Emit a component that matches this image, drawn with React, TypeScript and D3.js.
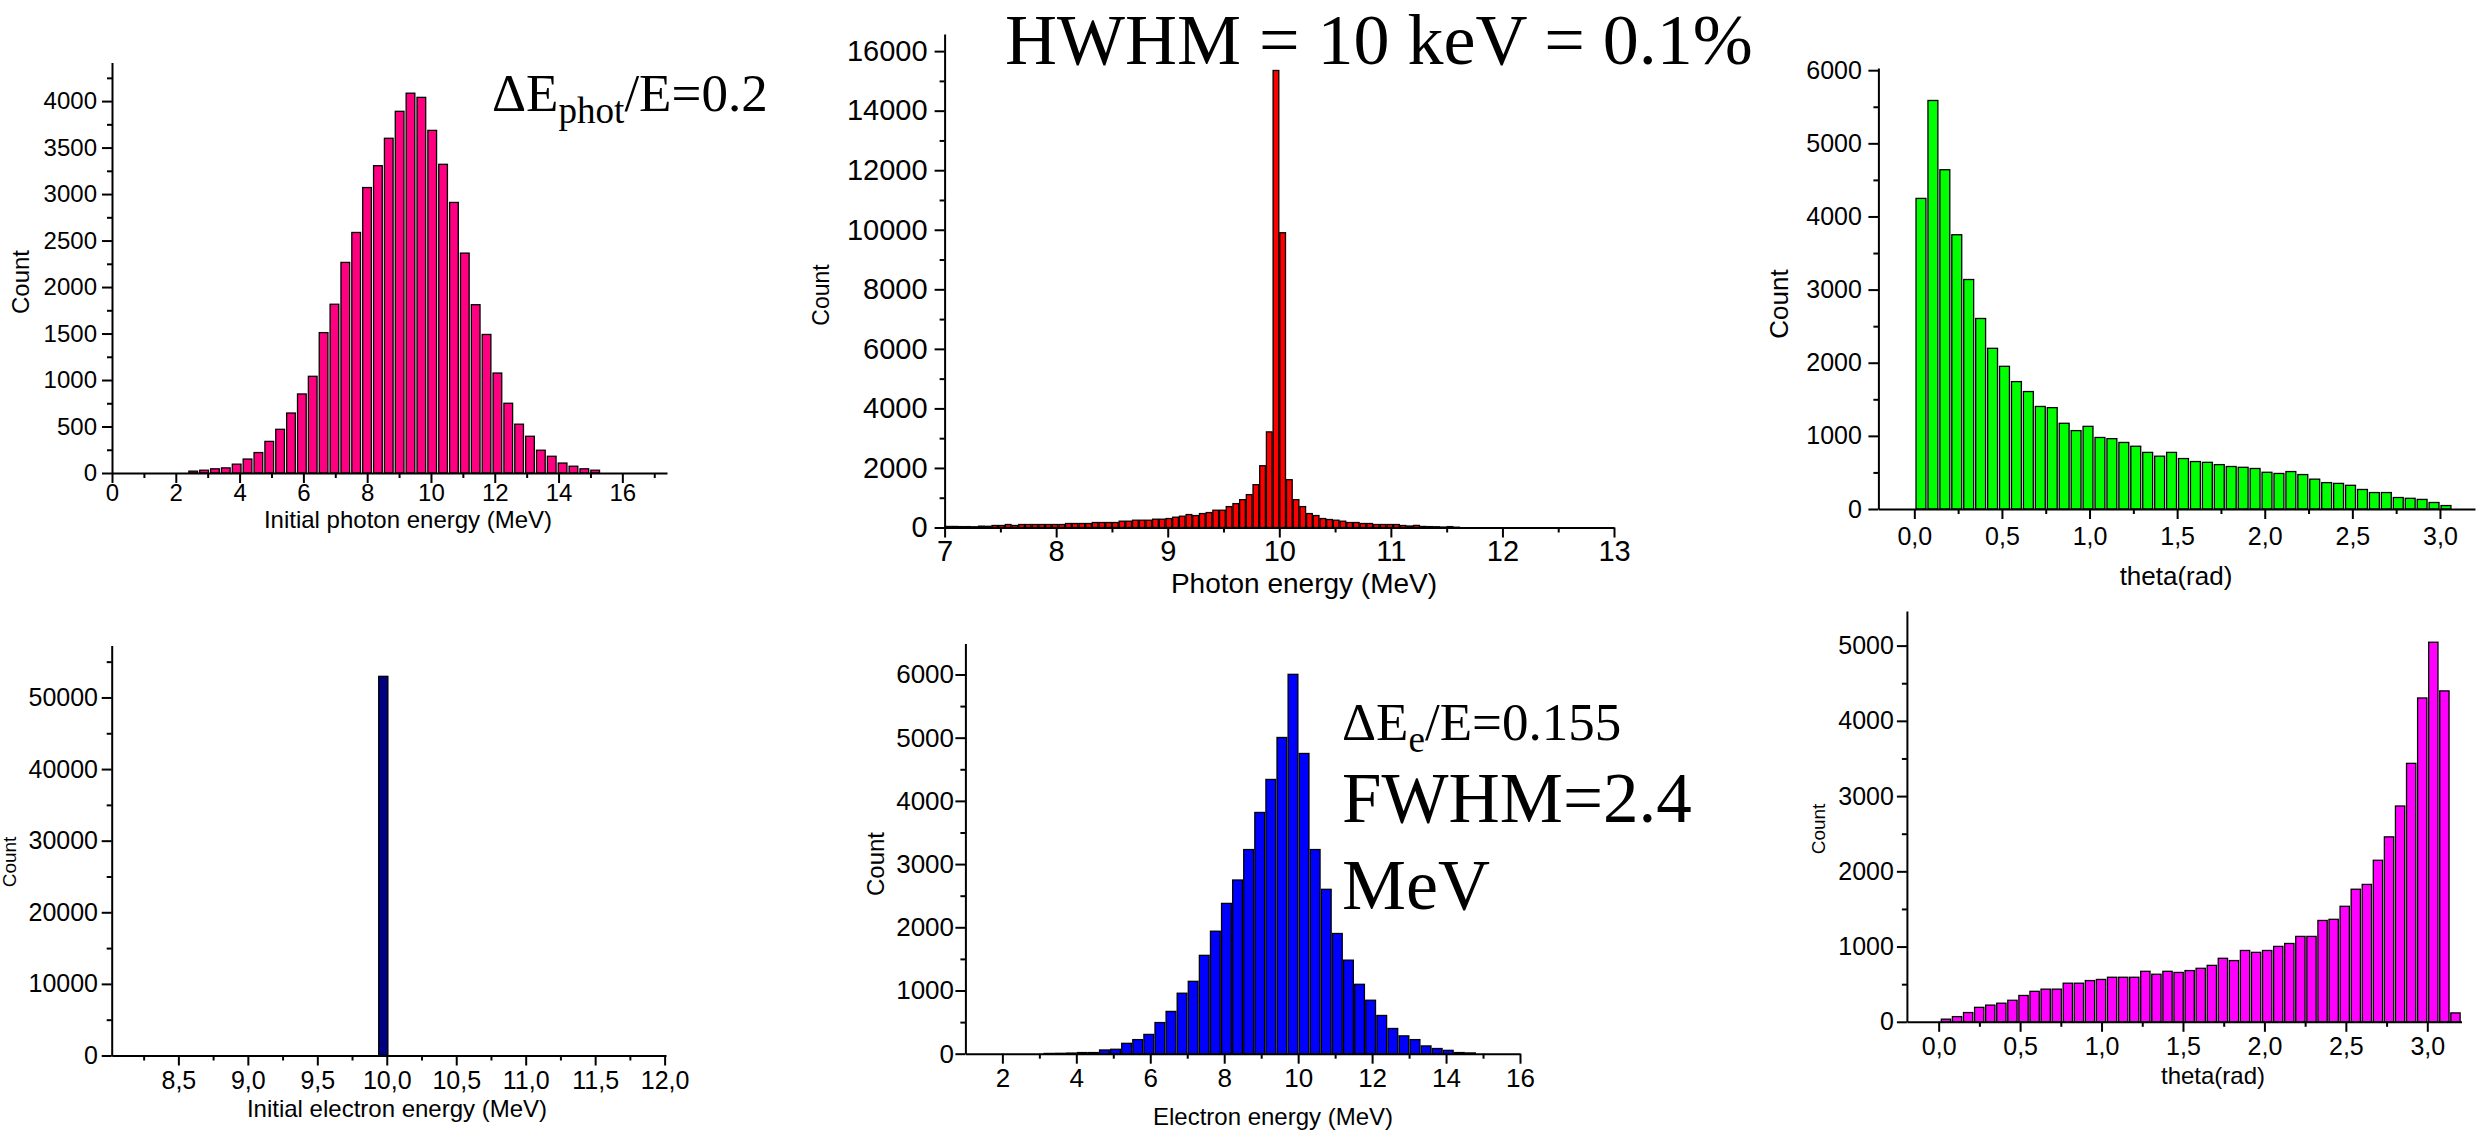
import * as d3 from 'd3';
import { useEffect, useRef } from 'react';

const SANS = '"Liberation Sans", Arial, sans-serif';
const SERIF = '"Liberation Serif", "Times New Roman", serif';

// ---- data (bin start centre, bin step, counts) ----
const photonInitStart = 2.546;
const photonInitStep = 0.3406;
const photonInitCounts = [20, 30, 45, 55, 95, 150, 220, 340, 470, 645, 850, 1040, 1510, 1815, 2265, 2587, 3070, 3305, 3600, 3890,
    4085, 4040, 3685, 3320, 2910, 2365, 1810, 1490, 1075, 750, 525, 395, 245, 180, 107, 73, 45, 30];

const photonStart = 7.03;
const photonStep = 0.06;
const photonCounts = [35, 35, 30, 30, 25, 45, 40,
    67, 67, 100, 67, 100, 100, 100, 100, 100, 100, 100, 134, 134, 134, 134, 167, 167, 167, 167, 212,
    212, 245, 245, 245, 279, 279, 301, 346, 379, 435, 401, 468, 502, 580, 580, 702, 803, 936, 1104, 1438,
    2074, 3211, 15350, 9900, 1605, 936, 702, 468, 401, 301, 268, 245, 212, 167, 167, 134, 134, 100, 100, 100, 100, 67,
    50, 70, 35, 30, 25, 15, 30, 10];

const thetaPhotStart = 0.038;
const thetaPhotStep = 0.0681;
const thetaPhotCounts = [4247, 5586, 4639, 3750, 3138, 2605, 2197, 1951, 1742, 1606, 1402, 1386, 1172, 1072, 1130, 978, 962, 910,
    858, 774, 722, 774, 690, 649, 638, 607, 581, 570, 554, 502, 486, 512, 471, 408, 361, 350, 324, 267, 225, 225, 157, 146, 131, 89, 47];

const electronInitCentres = [9.975];
const electronInitStep = 0.066;
const electronInitCounts = [52950];

const electronStart = 3.26;
const electronStep = 0.3;
const electronCounts = [4, 6, 10, 18, 18, 59, 70, 164, 223, 305, 493, 669, 957, 1145, 1556, 1938, 2378, 2748, 3230, 3817, 4339,
    5003, 6002, 4750, 3230, 2601, 1902, 1480, 1098, 846, 605, 399, 282, 223, 123, 82, 53, 18, 12];

const thetaElStart = 0.045;
const thetaElStep = 0.068;
const thetaElCounts = [35, 69, 123, 192, 222, 247, 286, 350, 405, 434, 434, 513, 513, 548, 563, 592, 592, 592, 671, 632, 671, 656,
    681, 711, 750, 844, 814, 948, 923, 948, 1002, 1041, 1135, 1135, 1347, 1362, 1535, 1762, 1826, 2147, 2458, 2868, 3435, 4304,
    5045, 4398, 118];

// tick values
const ticksE0to16 = [0, 2, 4, 6, 8, 10, 12, 14, 16];
const ticksPhotCount = [0, 500, 1000, 1500, 2000, 2500, 3000, 3500, 4000];
const ticksE7to13 = [7, 8, 9, 10, 11, 12, 13];
const ticksPeakCount = [0, 2000, 4000, 6000, 8000, 10000, 12000, 14000, 16000];
const ticksTheta = [0, 0.5, 1, 1.5, 2, 2.5, 3];
const ticks6000 = [0, 1000, 2000, 3000, 4000, 5000, 6000];
const ticks5000 = [0, 1000, 2000, 3000, 4000, 5000];
const ticksE85to12 = [8.5, 9, 9.5, 10, 10.5, 11, 11.5, 12];
const ticks50000 = [0, 10000, 20000, 30000, 40000, 50000];
const ticksE2to16 = [2, 4, 6, 8, 10, 12, 14, 16];

const comma = d3.formatLocale({ decimal: ',', thousands: '.', grouping: [3], currency: ['', ''] }).format('.1f');
const plain = (v: any) => `${v}`;

const between = (a: number, b: number, s: number) => d3.range(a, b + 1e-9, s);

const panels: any[] = [
    {
        centres: photonInitCounts.map((_, i) => photonInitStart + i * photonInitStep), step: photonInitStep, counts: photonInitCounts,
        frac: 0.8, color: '#ff0080',
        xDomain: [0, 17.4], yDomain: [0, 4415], frame: { x0: 112, x1: 667, yTop: 62.5, yBase: 473 },
        xTicks: ticksE0to16, xMinor: between(1, 17, 2), yTicks: ticksPhotCount, yMinor: between(250, 4250, 500),
        xFmt: plain, font: 24, xLab: 28, yLab: 15,
        title: { text: 'Initial photon energy (MeV)', x: 408, y: 528, size: 24 },
        count: { x: 20, y: 282, size: 24 },
    },
    {
        centres: photonCounts.map((_, i) => photonStart + i * photonStep), step: photonStep, counts: photonCounts,
        frac: 0.85, color: '#ff0000',
        xDomain: [7, 13], yDomain: [0, 16575], frame: { x0: 944.6, x1: 1614, yTop: 34, yBase: 527.5 },
        xTicks: ticksE7to13, xMinor: between(7.5, 12.5, 1), yTicks: ticksPeakCount, yMinor: between(1000, 15000, 2000),
        xFmt: plain, font: 29, xLab: 33.5, yLab: 17,
        title: { text: 'Photon energy (MeV)', x: 1304, y: 593, size: 28 },
        count: { x: 821, y: 295, size: 23 },
    },
    {
        centres: thetaPhotCounts.map((_, i) => thetaPhotStart + i * thetaPhotStep), step: thetaPhotStep, counts: thetaPhotCounts,
        frac: 0.83, color: '#00ff00',
        xDomain: [-0.205, 3.2], yDomain: [0, 6030], frame: { x0: 1878.4, x1: 2475, yTop: 68, yBase: 509 },
        xTicks: ticksTheta, xMinor: between(0.25, 2.75, 0.5), yTicks: ticks6000, yMinor: between(500, 5500, 1000),
        xFmt: comma, font: 25, xLab: 36, yLab: 16.5,
        title: { text: 'theta(rad)', x: 2176, y: 585, size: 26 },
        count: { x: 1779, y: 304, size: 26 },
    },
    {
        centres: electronInitCentres, step: electronInitStep, counts: electronInitCounts,
        frac: 1, color: '#000080',
        xDomain: [8.02, 12.01], yDomain: [0, 57270], frame: { x0: 111.7, x1: 666, yTop: 645.4, yBase: 1055.5 },
        xTicks: ticksE85to12, xMinor: between(8.25, 11.75, 0.5), yTicks: ticks50000, yMinor: between(5000, 55000, 10000),
        xFmt: comma, font: 25, xLab: 33, yLab: 13.7,
        title: { text: 'Initial electron energy (MeV)', x: 397, y: 1117, size: 24 },
        count: { x: 9, y: 862, size: 19 },
    },
    {
        centres: electronCounts.map((_, i) => electronStart + i * electronStep), step: electronStep, counts: electronCounts,
        frac: 0.88, color: '#0000ff',
        xDomain: [1, 16], yDomain: [0, 6490], frame: { x0: 965.4, x1: 1520, yTop: 643.5, yBase: 1053.7 },
        xTicks: ticksE2to16, xMinor: between(3, 15, 2), yTicks: ticks6000, yMinor: between(500, 6000, 1000),
        xFmt: plain, font: 26, xLab: 33.6, yLab: 11.4,
        title: { text: 'Electron energy (MeV)', x: 1273, y: 1125, size: 24 },
        count: { x: 875, y: 864, size: 24 },
    },
    {
        centres: thetaElCounts.map((_, i) => thetaElStart + i * thetaElStep), step: thetaElStep, counts: thetaElCounts,
        frac: 0.84, color: '#ff00ff',
        xDomain: [-0.195, 3.21], yDomain: [0, 5460], frame: { x0: 1906.9, x1: 2461.5, yTop: 611, yBase: 1021.8 },
        xTicks: ticksTheta, xMinor: between(0.25, 2.75, 0.5), yTicks: ticks5000, yMinor: between(500, 4500, 1000),
        xFmt: comma, font: 25, xLab: 33.2, yLab: 13,
        title: { text: 'theta(rad)', x: 2213, y: 1084, size: 24 },
        count: { x: 1818, y: 829, size: 19 },
    },
];

function drawPanel(svg: any, p: any) {
    const f = p.frame;
    const x = d3.scaleLinear().domain(p.xDomain).range([f.x0, f.x1]);
    const y = d3.scaleLinear().domain(p.yDomain).range([f.yBase, f.yTop]);
    const g = svg.append('g');

    const bw = (x(p.xDomain[0] + p.step) - x(p.xDomain[0])) * p.frac;
    g.append('g').selectAll('rect').data(p.counts).join('rect')
        .attr('x', (d: any, i: number) => x(p.centres[i]) - bw / 2)
        .attr('y', (d: any) => y(d))
        .attr('width', bw)
        .attr('height', (d: any) => y(0) - y(d))
        .attr('fill', p.color)
        .attr('stroke', '#000')
        .attr('stroke-width', 1.3);

    const style = (s: any) => {
        s.selectAll('line, path').attr('stroke', '#000').attr('stroke-width', 2);
        s.selectAll('text').attr('fill', '#000').attr('font-family', SANS).attr('font-size', p.font);
    };

    // minor ticks
    g.append('g').attr('transform', `translate(0,${f.yBase})`)
        .call(d3.axisBottom(x).tickValues(p.xMinor).tickSize(5).tickSizeOuter(0).tickFormat(() => ''))
        .call(style).call((s: any) => s.select('.domain').remove());
    g.append('g').attr('transform', `translate(${f.x0},0)`)
        .call(d3.axisLeft(y).tickValues(p.yMinor).tickSize(5).tickSizeOuter(0).tickFormat(() => ''))
        .call(style).call((s: any) => s.select('.domain').remove());

    // major axes
    g.append('g').attr('transform', `translate(0,${f.yBase})`)
        .call(d3.axisBottom(x).tickValues(p.xTicks).tickSize(10).tickSizeOuter(0).tickFormat(p.xFmt))
        .call(style)
        .call((s: any) => s.selectAll('text').attr('y', p.xLab).attr('dy', null));
    g.append('g').attr('transform', `translate(${f.x0},0)`)
        .call(d3.axisLeft(y).tickValues(p.yTicks).tickSize(10).tickSizeOuter(0).tickFormat(plain))
        .call(style)
        .call((s: any) => s.selectAll('text').attr('x', -p.yLab));

    g.append('text')
        .attr('x', p.title.x).attr('y', p.title.y)
        .attr('text-anchor', 'middle')
        .attr('font-family', SANS).attr('font-size', p.title.size)
        .text(p.title.text);

    g.append('text')
        .attr('transform', `translate(${p.count.x},${p.count.y}) rotate(-90)`)
        .attr('text-anchor', 'middle')
        .attr('dominant-baseline', 'central')
        .attr('font-family', SANS).attr('font-size', p.count.size)
        .text('Count');
}

function note(svg: any, x: number, y: number, size: number, main: string, sub?: string, rest?: string) {
    const t = svg.append('text').attr('x', x).attr('y', y)
        .attr('font-family', SERIF).attr('font-size', size).attr('fill', '#000');
    t.append('tspan').text(main);
    if (sub) {
        t.append('tspan').attr('font-size', size * 0.7).attr('dy', size * 0.23).text(sub);
        t.append('tspan').attr('dy', -size * 0.23).text(rest);
    }
}

export default function App() {
    const ref = useRef<any>();

    useEffect(() => {
        const svg = d3.select(ref.current);
        svg.selectAll('*').remove();
        panels.forEach((p) => drawPanel(svg, p));

        note(svg, 492, 111, 53, 'ΔE', 'phot', '/E=0.2');
        note(svg, 1005, 64, 72, 'HWHM = 10 keV = 0.1%');
        note(svg, 1342, 740, 53, 'ΔE', 'e', '/E=0.155');
        note(svg, 1342, 822, 71, 'FWHM=2.4');
        note(svg, 1342, 909, 72, 'MeV');
    }, []);

    return (
        <svg ref={ref} width={2485} height={1142}
            style={{ position: 'absolute', left: 0, top: 0, background: '#fff' }}></svg>
    );
}
